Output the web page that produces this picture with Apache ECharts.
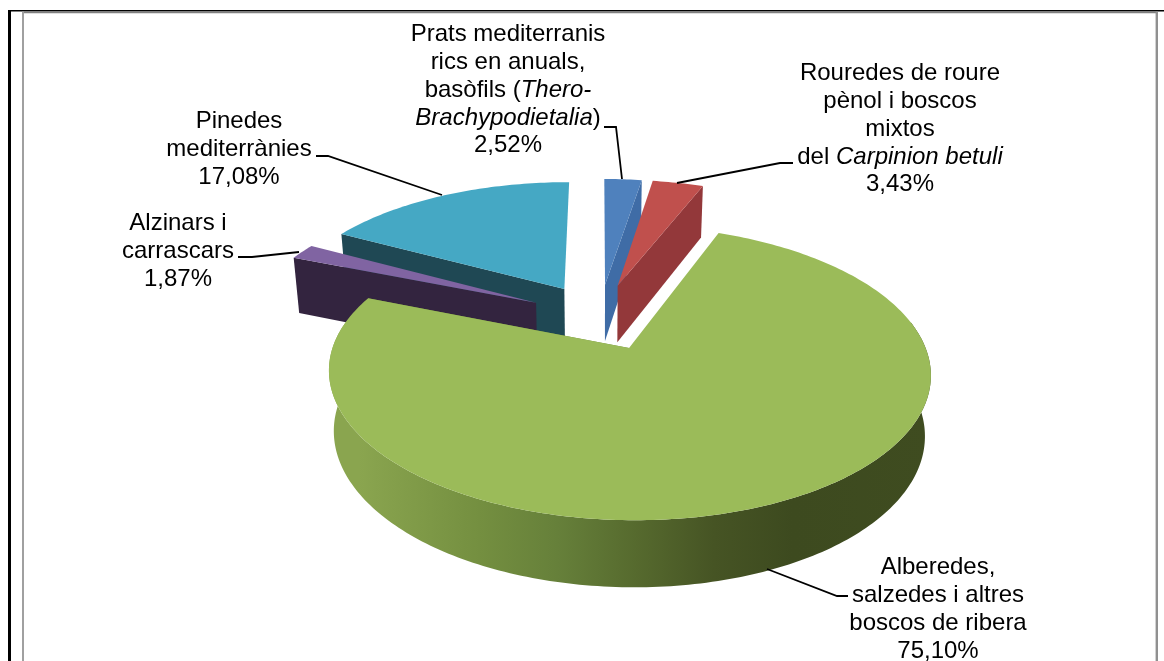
<!DOCTYPE html>
<html><head><meta charset="utf-8">
<style>html,body{margin:0;padding:0;background:#fff}#c{width:1164px;height:661px}</style>
<script src="https://cdn.jsdelivr.net/npm/echarts@6/dist/echarts.min.js"></script>
</head><body><div id="c"></div>
<script>
var categories = ['Prats mediterranis','Rouredes de roure','Alberedes','Alzinars i carrascars','Pinedes mediterrànies'];
var values = [2.52, 3.43, 75.10, 1.87, 17.08];
var topColors = ['#4f81bd','#c0504d','#9bbb59','#8064a2','#45a8c4'];
var wallColors = ['#3f6ca6','#93383a','#6f8a3c','#33243f','#1f4854'];
var drawOrder = [4,3,0,1,2];

// Camera of the 3D pie
var cam = {u0:599.6, v0:316.5, a:285.5, c:132.5, b:0.163, explode:0.25, h:58, bh:0.11, shrink:0.982};
function proj(X,Y,low){
  var d = 1+cam.b*Y;
  var u = cam.a*X/d, v = cam.v0 - cam.c*Y/d;
  if(low){ u*=cam.shrink; v += cam.h/(1+cam.bh*Y); }
  return [cam.u0+u, v];
}
var total = values.reduce(function(s,v){return s+v;},0);
var starts=[], acc=0;
values.forEach(function(v){starts.push(acc); acc+=v;});

function renderSlice(params, api){
  var i = api.value(0), val = api.value(1);
  var a0 = starts[i]/total*2*Math.PI, a1 = (starts[i]+val)/total*2*Math.PI, m=(a0+a1)/2;
  var cx = cam.explode*Math.sin(m), cy = cam.explode*Math.cos(m);
  var n = Math.max(4,Math.ceil((a1-a0)/(Math.PI/180))), topArc=[], lowArc=[], rimTop=[], rimLow=[];
  for(var k=0;k<=n;k++){
    var t=a0+(a1-a0)*k/n, X=cx+Math.sin(t), Y=cy+Math.cos(t);
    var pt=proj(X,Y,false), pl=proj(X,Y,true);
    topArc.push(pt); lowArc.push(pl);
    if(Math.cos(t)<0.2){ rimTop.push(pt); rimLow.push(pl); }   // rim turned towards the viewer
  }
  var apexT=proj(cx,cy,false), apexL=proj(cx,cy,true);
  var wall = wallColors[i];
  var rimFill = wall;
  if(i===2){
    rimFill = new echarts.graphic.LinearGradient(0,0,1,0,[
      {offset:0,color:'#8aa54f'},{offset:0.05,color:'#8aa54f'},{offset:0.25,color:'#748f40'},
      {offset:0.38,color:'#66803a'},{offset:0.51,color:'#566a2e'},{offset:0.64,color:'#465424'},
      {offset:0.77,color:'#3d4a1f'},{offset:1,color:'#3f4c20'}]);
  }
  function poly(pts,fill){return {type:'polygon',shape:{points:pts},style:{fill:fill,stroke:null}};}
  // only the cut face turned towards the viewer is drawn
  var face = (m > Math.PI) ? [apexT,topArc[0],lowArc[0],apexL] : [apexT,topArc[n],lowArc[n],apexL];
  var children=[poly(face,wall)];
  if(rimTop.length>1) children.push(poly(rimTop.concat(rimLow.reverse()),rimFill));
  children.push(poly([apexT].concat(topArc),topColors[i]));
  return {type:'group',children:children};
}

var FS=24, LH=27.7;
var labels=[
 {x:508,y:21,lines:['Prats mediterranis','rics en anuals,','basòfils ({i|Thero-}','{i|Brachypodietalia})','2,52%']},
 {x:900,y:60,lines:['Rouredes de roure','pènol i boscos','mixtos','del {i|Carpinion betuli}','3,43%']},
 {x:938,y:554,lines:['Alberedes,','salzedes i altres','boscos de ribera','75,10%']},
 {x:178,y:210,lines:['Alzinars i','carrascars','1,87%']},
 {x:239,y:108,lines:['Pinedes','mediterrànies','17,08%']}
];
var leaders=[
 [[604,127],[616,127],[622,179]],
 [[793,163],[780,163],[677,183]],
 [[848,596],[837,596],[767,569]],
 [[238,257],[252,257],[299,252]],
 [[316,156],[328,156],[442,195]]
];
var g=[];
labels.forEach(function(l){
 g.push({type:'text',x:l.x,y:l.y,z:10,style:{
  text:l.lines.join('\n'),align:'center',verticalAlign:'top',fill:'#000',
  font:FS+'px "Liberation Sans", Arial, sans-serif',lineHeight:LH,
  rich:{i:{fontStyle:'italic',fontFamily:'"Liberation Sans"',fontSize:FS,lineHeight:LH,fill:'#000'}}
 }});
});
leaders.forEach(function(p){
 g.push({type:'polyline',z:9,shape:{points:p},style:{stroke:'#000',lineWidth:1.8,fill:null}});
});
// frame
function fr(x,y,w,h,c){g.push({type:'rect',z:8,shape:{x:x,y:y,width:w,height:h},style:{fill:c}});}
fr(8,10,1156,1.4,'#000');
fr(8,10,3,651,'#000');
fr(22,11.4,1136,1.8,'#808080');
fr(22,11.4,2,650,'#a0a0a0');
fr(1155.6,11.4,2.4,650,'#909090');

var chart=echarts.init(document.getElementById('c'),null,{renderer:'canvas'});
chart.setOption({
 animation:false,
 backgroundColor:'#fff',
 graphic:{elements:g},
 series:[{
  type:'custom',coordinateSystem:'none',silent:true,
  encode:{value:1},
  renderItem:renderSlice,
  data:drawOrder.map(function(i){return {name:categories[i],value:[i,values[i]]};})
 }]
});
</script></body></html>
